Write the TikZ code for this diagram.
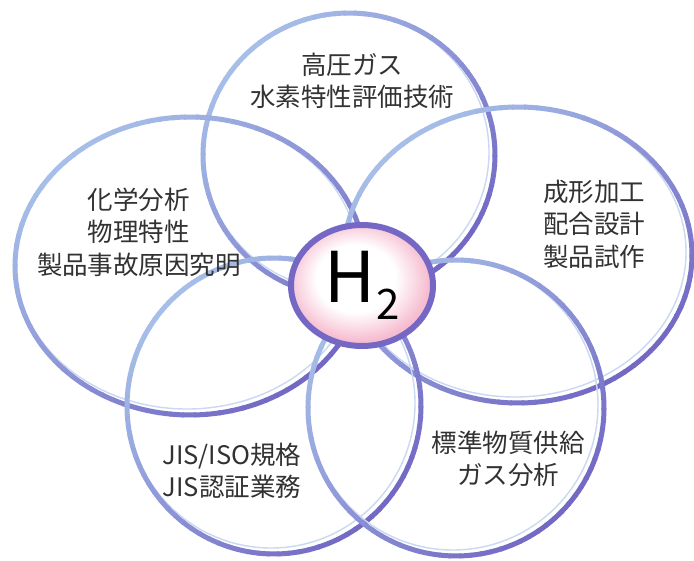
\documentclass[tikz,border=0pt]{standalone}
\usepackage{fontspec}
\newfontfamily\jp{Noto Sans CJK JP}
\usetikzlibrary{shapes.geometric}
\definecolor{pl}{RGB}{166,190,232}
\definecolor{pd}{RGB}{114,104,196}
\definecolor{pthin}{RGB}{202,216,242}
\definecolor{ringc}{RGB}{116,104,196}
\definecolor{pinkc}{RGB}{246,188,208}
\definecolor{txt}{RGB}{50,50,50}
\pgfdeclareradialshading{hshade}{\pgfpoint{-3bp}{4bp}}{color(0bp)=(white); color(14bp)=(white); color(25bp)=(pinkc); color(50bp)=(pinkc)}
\newcommand\petal[4]{%
 \begin{scope}[shift={(#1,#2)}]
  \draw[pthin, line width=1.4pt] (-3,-3) ellipse [x radius=#3-3, y radius=#4-3];
  \foreach \i in {0,...,89}{
    \pgfmathsetmacro\mixv{int(50*(1+cos(\i*4+2-45)))}
    \pgfmathsetmacro\ang{\i*4}
    \draw[line width=5pt, color=pd!\mixv!pl] (\ang:#3 and #4) arc[start angle=\ang, end angle=\ang+4.6, x radius=#3, y radius=#4];
  }
 \end{scope}}
\tikzset{
  lbl/.style={font=\jp\fontsize{25.5}{32.5}\selectfont, text=txt, align=center, inner sep=0pt},
  core/.style={ellipse, draw=ringc, line width=6pt, minimum width=142pt, minimum height=121pt, inner sep=0pt, shading=hshade}
}
\begin{document}
\begin{tikzpicture}[x=1pt,y=-1pt]
\fill[white] (0,0) rectangle (694,561);
\useasboundingbox (0,0) rectangle (694,561);
% petals
\petal{349}{155}{146}{142}
\petal{190}{266}{175}{149}
\petal{518}{255}{174}{148}
\petal{274}{406}{147}{148}
\petal{456}{408}{148}{148}
% centre
\node[core] (h2) at (362,285.5) {\jp\fontsize{70}{70}\selectfont H\kern1pt\raisebox{-17pt}{\fontsize{42}{42}\selectfont 2}};
% labels
\node[lbl] (top) at (352,81) {高圧ガス\\水素特性評価技術};
\node[lbl] (left) at (139,232) {化学分析\\物理特性\\製品事故原因究明};
\node[lbl] (right) at (594,224) {成形加工\\配合設計\\製品試作};
\node[lbl] (bl) at (232,471) {JIS/ISO規格\\JIS認証業務};
\node[lbl] (br) at (508,459) {標準物質供給\\ガス分析};
\end{tikzpicture}
\end{document}
